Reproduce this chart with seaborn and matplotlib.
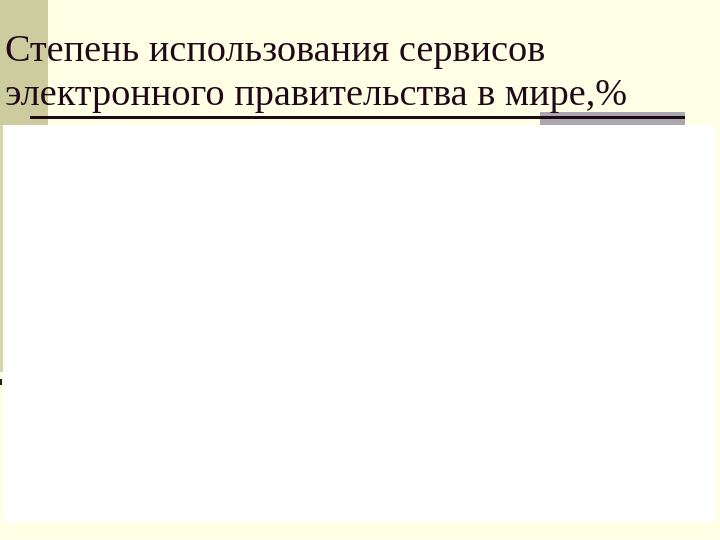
import matplotlib
matplotlib.use("Agg")
import matplotlib.pyplot as plt
import seaborn as sns
from matplotlib.patches import Rectangle

# slide content: the title only, the chart area itself is empty
title_lines = ["Степень использования сервисов",
               "электронного правительства в мире,%"]
categories = []
values = []

sns.set_theme(style="white")
plt.rcParams["font.family"] = ["Liberation Serif", "DejaVu Serif"]

W, H = 720, 540
bg = "#FFFFE6"
fig = plt.figure(figsize=(W / 100, H / 100), dpi=100, facecolor=bg)


def px_rect(x0, y0, x1, y1, color, z=1):
    # rectangle in pixel coords (top-left origin) -> figure fraction
    fig.patches.append(Rectangle((x0 / W, 1 - y1 / H), (x1 - x0) / W, (y1 - y0) / H,
                                 transform=fig.transFigure, facecolor=color,
                                 edgecolor="none", zorder=z))


# olive side band and grey accent bar of the slide template
px_rect(0, 0, 48, 125, "#CDCC9E")
px_rect(0, 125, 2.5, 372, "#D6D5A8")
px_rect(0, 379, 1.5, 385, "#202020")
px_rect(540, 112, 685, 125, "#ABA7B1")
px_rect(30, 116, 685, 118.5, "#1E0A14", z=2)

# empty chart area
ax = fig.add_axes([3 / W, 18 / H, 713 / W, 397 / H])
ax.set_facecolor("white")
sns.barplot(x=categories, y=values, ax=ax)
ax.set_xticks([])
ax.set_yticks([])
ax.set_xlabel("")
ax.set_ylabel("")
sns.despine(ax=ax, left=True, bottom=True)

for i, line in enumerate(title_lines):
    fig.text(5 / W, 1 - (61 + i * 44) / H, line, fontsize=27.5, color="#200818",
             ha="left", va="baseline")

fig.savefig("out.png", dpi=100, facecolor=bg)
